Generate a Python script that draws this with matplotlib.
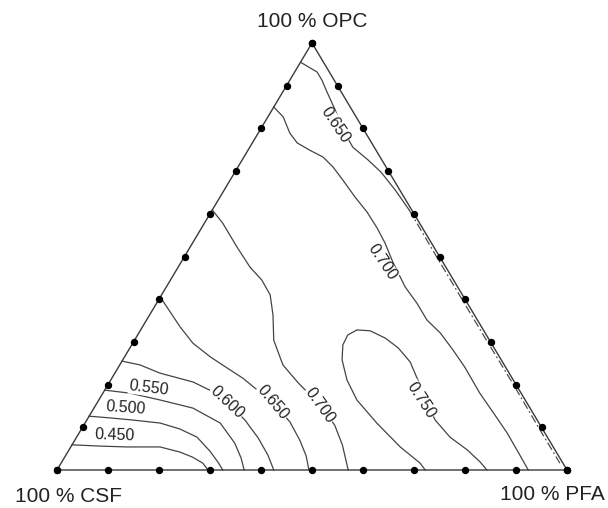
import numpy as np
import matplotlib
matplotlib.use("Agg")
import matplotlib.pyplot as plt

plt.rcParams['font.family'] = ['Liberation Sans', 'DejaVu Sans']

# Iso-response contours of the OPC / PFA / CSF blend, given as
# (OPC %, PFA %) compositions; CSF % = 100 - OPC - PFA.
levels = [0.450, 0.500, 0.550, 0.600, 0.650, 0.700, 0.750, 0.700, 0.650]

c450_opc = [5.9, 5.6, 5.4, 5.4, 4.2, 3.0, 1.6, 0.0]
c450_pfa = [0.0, 5.6, 11.0, 17.5, 22.0, 25.1, 27.8, 29.6]

c500_opc = [12.6, 12.2, 11.7, 11.0, 9.6, 7.7, 4.4, 1.6, 0.0]
c500_pfa = [0.0, 4.3, 9.0, 14.7, 19.3, 23.6, 27.8, 30.9, 32.5]

c550_opc = [18.7, 18.0, 16.4, 14.5, 11.0, 6.3, 2.8, 0.0]
c550_pfa = [0.0, 5.3, 12.0, 19.4, 26.5, 31.7, 34.7, 36.7]

c600_opc = [25.5, 24.6, 22.7, 20.6, 18.7, 15.9, 11.7, 7.5, 3.5, 0.0]
c600_pfa = [0.0, 4.0, 8.8, 16.4, 20.6, 25.4, 31.0, 35.7, 39.6, 42.5]

c650a_opc = [40.5, 37.0, 33.5, 29.7, 26.5, 23.9, 21.5, 19.2, 15.9, 11.2, 7.0, 3.3, 0.0]
c650a_pfa = [0.0, 3.7, 7.4, 11.8, 16.8, 21.4, 25.7, 29.2, 34.4, 40.1, 44.1, 47.2, 49.4]

c700a_opc = [60.9, 57.8, 52.2, 47.5, 44.5, 41.0, 36.3, 30.4, 24.6, 20.4, 15.2, 10.5, 5.9, 2.3, 0.0]
c700a_pfa = [0.0, 3.6, 9.2, 14.1, 17.9, 21.3, 24.2, 27.3, 32.0, 37.1, 44.0, 49.2, 53.0, 55.5, 57.1]

c750_opc = [0.0, 1.6, 5.4, 11.0, 16.4, 21.1, 25.8, 29.3, 31.6, 32.8, 32.6, 30.9,
            28.6, 25.3, 21.1, 16.4, 11.7, 7.7, 4.7, 1.9, 0.0]
c750_pfa = [72.2, 70.4, 64.6, 57.2, 50.6, 46.3, 43.0, 41.4, 41.2, 42.4, 45.1, 48.9,
            52.6, 56.6, 60.2, 64.0, 68.3, 73.2, 78.1, 82.0, 84.3]

c700b_opc = [85.0, 82.7, 78.9, 76.6, 74.9, 73.3, 71.0, 67.9, 63.9, 60.4, 56.7, 53.2,
             48.7, 42.9, 39.1, 35.1, 32.1, 28.1, 24.1, 18.0, 12.9, 8.7, 3.5, 0.0]
c700b_pfa = [0.0, 3.0, 6.2, 8.8, 12.1, 15.5, 18.6, 22.1, 26.5, 30.6, 34.4, 37.7,
             41.5, 46.8, 51.0, 55.0, 59.1, 63.6, 67.9, 73.9, 79.4, 83.9, 89.0, 92.4]

c650b_opc = [95.5, 93.2, 91.3, 88.5, 84.3, 79.6, 75.6, 72.6, 69.8, 65.6, 60.9]
c650b_pfa = [0.0, 4.4, 6.3, 8.7, 12.4, 16.3, 20.2, 24.7, 28.6, 33.5, 38.6]

# continuation of the upper 0.650 contour along the OPC-PFA side
c650b_edge_opc = [60.9, 50.0, 40.0, 30.0, 20.0, 10.0, 1.6]
c650b_edge_pfa = [38.6, 49.4, 59.4, 69.4, 79.5, 89.4, 97.8]

contours = [
    (c450_opc, c450_pfa), (c500_opc, c500_pfa), (c550_opc, c550_pfa),
    (c600_opc, c600_pfa), (c650a_opc, c650a_pfa), (c700a_opc, c700a_pfa),
    (c750_opc, c750_pfa), (c700b_opc, c700b_pfa), (c650b_opc, c650b_pfa),
]

# grid marks along each side, in %
side_ticks = [0, 10, 20, 30, 40, 50, 60, 70, 80, 90, 100]

corner_names = ["100 % OPC", "100 % CSF", "100 % PFA"]

# label placement (OPC %, PFA %, rotation) for each contour above
label_layout = [
    (8.2, 7.1, -2), (14.5, 6.3, -4), (19.2, 8.4, -7),
    (15.9, 25.4, -43), (15.9, 34.4, -50), (15.2, 44.0, -54),
    (16.4, 63.2, -57), (48.7, 39.4, -56), (80.8, 14.1, -56),
]


def to_xy(opc, pfa):
    opc = np.asarray(opc, float) / 100.0
    pfa = np.asarray(pfa, float) / 100.0
    return pfa + opc / 2.0, opc


fig = plt.figure(figsize=(6.08, 5.08), dpi=100)
ax = fig.add_axes([57 / 608, 38 / 508, 510 / 608, 427 / 508])
ax.set_xlim(0, 1)
ax.set_ylim(0, 1)
ax.axis('off')

line_col = '#444444'
text_col = '#222222'

# triangle frame
ax.plot([0, 1, 0.5, 0], [0, 0, 1, 0], color='#3a3a3a', lw=1.0,
        clip_on=False, zorder=3, solid_joinstyle='miter')

# dots at 10 % steps on every side
t = np.array(side_ticks, float)
zeros = np.zeros_like(t)
for o, p in [(zeros, t), (t, zeros), (t, 100 - t)]:
    x, y = to_xy(o, p)
    ax.plot(x, y, 'o', color='black', ms=4.3, clip_on=False, zorder=6)

# contour lines
for o, p in contours:
    x, y = to_xy(o, p)
    ax.plot(x, y, color=line_col, lw=0.9, zorder=2, clip_on=False)

x, y = to_xy(c650b_edge_opc, c650b_edge_pfa)
ax.plot(x, y, color=line_col, lw=0.85, zorder=2, clip_on=False,
        linestyle=(0, (7, 2.5, 1.5, 2.5)))

# contour labels
for lev, (lo, lp, rot) in zip(levels, label_layout):
    x, y = to_xy(lo, lp)
    ax.text(x, y, f"{lev:.3f}", fontsize=11.5, color=text_col,
            ha='center', va='center', rotation=rot, rotation_mode='anchor',
            zorder=4,
            bbox=dict(facecolor='white', edgecolor='none', pad=0.4))

# corner names
ax.text(0.5, 1.0515, corner_names[0], fontsize=15, color=text_col,
        ha='center', va='center', clip_on=False)
ax.text(0.0216, -0.061, corner_names[1], fontsize=15, color=text_col,
        ha='center', va='center', clip_on=False)
ax.text(0.9706, -0.058, corner_names[2], fontsize=15, color=text_col,
        ha='center', va='center', clip_on=False)

fig.savefig("out.png", dpi=100, facecolor='white')
